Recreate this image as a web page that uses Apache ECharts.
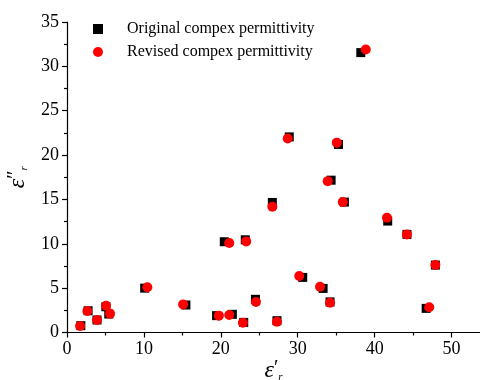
<!DOCTYPE html>
<html><head><meta charset="utf-8">
<script src="https://cdn.jsdelivr.net/npm/echarts@6/dist/echarts.min.js"></script>
<style>html,body{margin:0;padding:0;background:#fff}#c{width:480px;height:380px}</style>
</head><body><div id="c"></div>
<script>
const seriesNames = ['Original compex permittivity', 'Revised compex permittivity'];
const originalX = [1.8, 2.74, 3.9, 5.05, 5.43, 10.1, 15.46, 19.45, 21.5, 22.98, 24.5, 27.3, 20.45, 23.18, 26.7, 28.9, 30.65, 33.3, 34.2, 34.34, 35.3, 36.07, 38.2, 41.7, 44.2, 46.7, 47.9];
const originalY = [0.77, 2.45, 1.41, 2.9, 2.08, 5.0, 3.1, 1.9, 2.05, 1.14, 3.74, 1.33, 10.23, 10.45, 14.66, 22.05, 6.21, 4.97, 3.45, 17.17, 21.2, 14.7, 31.55, 12.56, 11.06, 2.72, 7.6];
const revisedX = [1.7, 2.65, 3.9, 5.08, 5.6, 10.45, 15.1, 19.75, 21.1, 22.87, 24.57, 27.3, 21.1, 23.3, 26.7, 28.7, 30.2, 32.9, 34.2, 33.9, 35.08, 35.86, 38.85, 41.6, 44.2, 47.1, 47.9];
const revisedY = [0.73, 2.42, 1.41, 3.02, 2.12, 5.1, 3.17, 1.9, 1.97, 1.1, 3.43, 1.22, 10.08, 10.27, 14.17, 21.87, 6.36, 5.16, 3.36, 17.06, 21.4, 14.7, 31.9, 12.93, 11.06, 2.84, 7.6];

const FONT = 'Liberation Serif';
const pairs = (xs, ys) => xs.map((x, i) => [x, ys[i]]);
const chart = echarts.init(document.getElementById('c'), null, {renderer: 'canvas'});
const axisCommon = {
  axisLine: {show: true, onZero: false, lineStyle: {color: '#000', width: 1.2}},
  axisTick: {show: true, inside: false, length: 5, lineStyle: {color: '#000', width: 1.2}},
  minorTick: {show: true, splitNumber: 2, length: 3, lineStyle: {color: '#000', width: 1.2}},
  splitLine: {show: false},
  axisLabel: {color: '#000', fontFamily: FONT, fontSize: 18}
};
chart.setOption({
  animation: false,
  backgroundColor: '#fff',
  grid: {left: 67, right: -10, top: 22, bottom: 47.5, containLabel: false, outerBoundsMode: 'none'},
  legend: {
    orient: 'vertical', left: 88, top: 15, itemGap: 5, itemWidth: 10, itemHeight: 10,
    textStyle: {fontFamily: FONT, fontSize: 16, color: '#000', lineHeight: 18, padding: [0, 0, 0, 19]},
    data: [{name: seriesNames[0], icon: 'rect'}, {name: seriesNames[1], icon: 'circle'}]
  },
  xAxis: Object.assign({}, axisCommon, {
    type: 'value', min: 0, max: 55, interval: 10,
    axisLabel: Object.assign({}, axisCommon.axisLabel, {margin: 8, showMaxLabel: false}),
    name: '{e|ε}{p|′}{s|r}', nameLocation: 'middle', nameGap: 26, nameMoveOverlap: false,
    nameTextStyle: {padding: [0, 10, 0, 0], rich: {
      e: {fontFamily: FONT, fontStyle: 'italic', fontSize: 24, color: '#000'},
      p: {fontFamily: FONT, fontSize: 20, color: '#000', verticalAlign: 'top'},
      s: {fontFamily: FONT, fontStyle: 'italic', fontSize: 11, color: '#000', verticalAlign: 'bottom'}
    }}
  }),
  yAxis: Object.assign({}, axisCommon, {
    type: 'value', min: 0, max: 35, interval: 5,
    axisLabel: Object.assign({}, axisCommon.axisLabel, {margin: 8}),
    name: '{e|ε}{p|″}{s|r}', nameLocation: 'middle', nameGap: 36, nameRotate: 90,
    nameTextStyle: {rich: {
      e: {fontFamily: FONT, fontStyle: 'italic', fontSize: 24, color: '#000'},
      p: {fontFamily: FONT, fontSize: 20, color: '#000', verticalAlign: 'top'},
      s: {fontFamily: FONT, fontStyle: 'italic', fontSize: 11, color: '#000', verticalAlign: 'bottom'}
    }}
  }),
  series: [
    {name: seriesNames[0], type: 'scatter', symbol: 'rect', symbolSize: 9,
     itemStyle: {color: '#000', opacity: 1}, data: pairs(originalX, originalY), z: 2},
    {name: seriesNames[1], type: 'scatter', symbol: 'circle', symbolSize: 10,
     itemStyle: {color: '#ff0000', opacity: 1}, data: pairs(revisedX, revisedY), z: 3}
  ]
});
</script></body></html>
